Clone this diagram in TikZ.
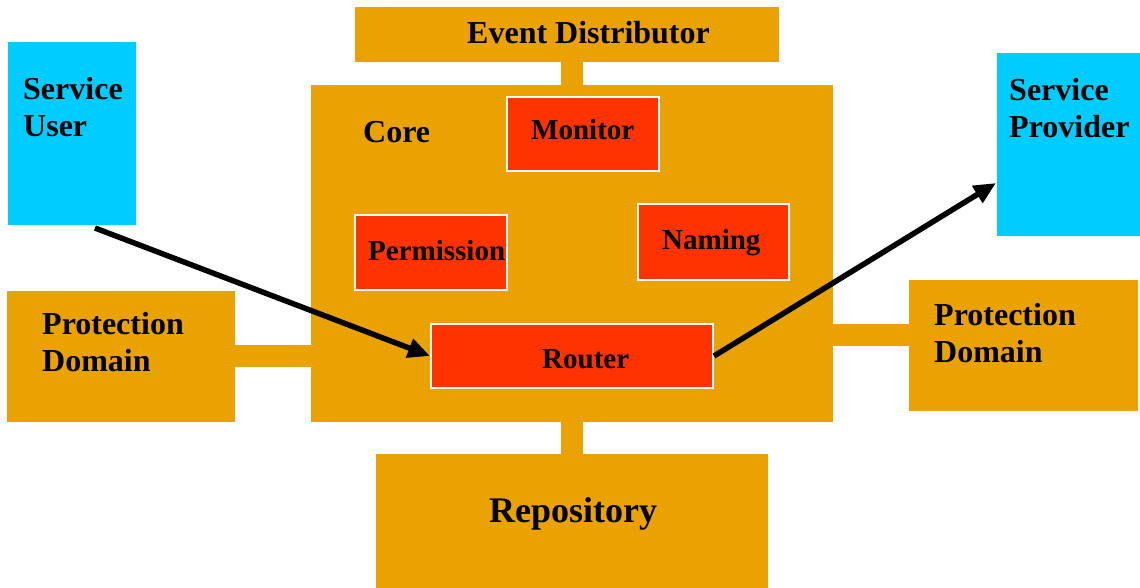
\documentclass[tikz,border=0pt]{standalone}
\usepackage{fontspec}
\setmainfont{Liberation Serif}
\usetikzlibrary{arrows.meta,calc}

\definecolor{corebrown}{RGB}{233,162,0}
\definecolor{partred}{RGB}{255,51,0}
\definecolor{clientcyan}{RGB}{0,204,255}

\newcommand{\twoline}[2]{\parbox[t]{200pt}{\raggedright #1\\#2}}

\tikzset{
  block/.style={rectangle, fill=corebrown, draw=none, inner sep=0pt, outer sep=0pt},
  partbox/.style={rectangle, fill=partred, draw=white, line width=2pt, inner sep=0pt},
  clientbox/.style={rectangle, fill=clientcyan, draw=none, inner sep=0pt, outer sep=0pt},
  big/.style={font=\fontsize{32}{37}\selectfont\bfseries},
  small/.style={font=\fontsize{29}{34}\selectfont\bfseries},
  huge/.style={font=\fontsize{36}{41}\selectfont\bfseries},
  txt/.style={inner sep=0pt, anchor=base west},
  stem/.style={fill=corebrown},
  flow/.style={line width=5.5pt, -{Triangle[length=22pt,width=19pt]}}
}

\begin{document}
\begin{tikzpicture}[x=1pt,y=-1pt]
\useasboundingbox (0,0) rectangle (1140,588);

% main blocks
\node[block, minimum width=424pt, minimum height=55pt] (event) at (567,34.5) {};
\node[block, minimum width=522pt, minimum height=337pt] (core) at (572,253.5) {};
\node[block, minimum width=228pt, minimum height=131pt] (pdl) at (121,356.5) {};
\node[block, minimum width=229pt, minimum height=131pt] (pdr) at (1023.5,345.5) {};
\node[block, minimum width=392pt, minimum height=134pt] (repo) at (572,521) {};

% links between the blocks
\path[stem] ($(core.north)+(-11,0)$) rectangle ($(core.north |- event.south)+(11,0)$);
\path[stem] ($(core.south)+(-11,0)$) rectangle ($(core.south |- repo.north)+(11,0)$);
\path[stem] ($(pdl.east |- core.center)+(0,91.5)$) rectangle ($(core.west)+(0,113.5)$);
\path[stem] ($(core.east)+(0,70.5)$) rectangle ($(pdr.west |- core.center)+(0,92.5)$);

% clients
\node[clientbox, minimum width=128pt, minimum height=183pt] (user) at (72,133.5) {};
\node[clientbox, minimum width=143pt, minimum height=183pt] (provider) at (1068.5,144.5) {};

% parts of the core
\node[partbox, minimum width=152pt, minimum height=74pt] (monitor) at (583,134) {};
\node[partbox, minimum width=152pt, minimum height=75pt] (permission) at (431,252.5) {};
\node[partbox, minimum width=151pt, minimum height=76pt] (naming) at (713.5,242) {};
\node[partbox, minimum width=282pt, minimum height=64pt] (router) at (572,356) {};

% labels
\node[txt, big] (eventlbl) at (467,44) {Event Distributor};
\node[txt, big] (corelbl) at (363,143) {Core};
\node[txt, small] (monitorlbl) at (531,140) {Monitor};
\node[txt, small] (permissionlbl) at (368,260) {Permission};
\node[txt, small] (naminglbl) at (662,249) {Naming};
\node[txt, small] (routerlbl) at (542,368) {Router};
\node[txt, huge] (repolbl) at (489,522) {Repository};
\node[txt, big] (userlbl) at (23,100) {\twoline{Service}{User}};
\node[txt, big] (providerlbl) at (1009,101) {\twoline{Service}{Provider}};
\node[txt, big] (pdllbl) at (42,334) {\twoline{Protection}{Domain}};
\node[txt, big] (pdrlbl) at (934,325) {\twoline{Protection}{Domain}};

% request flow
\coordinate (reqstart) at (95,228);
\coordinate (reqend) at (996,183);
\draw[flow] (reqstart) -- (router.west);
\draw[flow] (router.east) -- (reqend);
\end{tikzpicture}
\end{document}
